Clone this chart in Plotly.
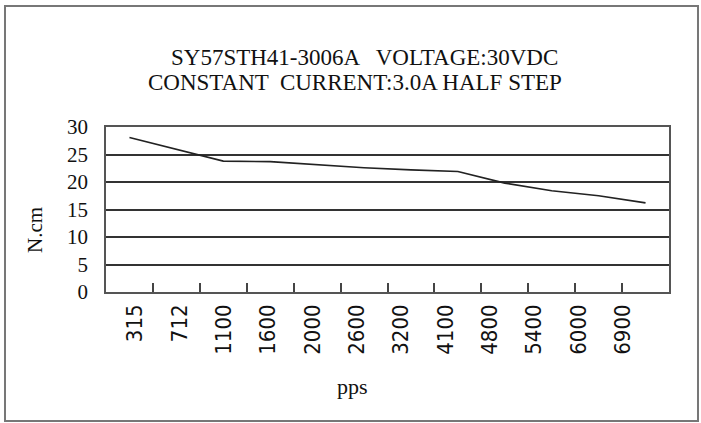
import plotly.graph_objects as go

# ---- data ----
speed_pps = ["315", "712", "1100", "1600", "2000", "2600",
             "3200", "4100", "4800", "5400", "6000", "6900"]
torque_ncm = [28.1, 26.0, 23.8, 23.7, 23.1, 22.6,
              22.2, 21.9, 19.8, 18.4, 17.5, 16.2]
y_ticks = [0, 5, 10, 15, 20, 25, 30]

title_line1 = "SY57STH41-3006A   VOLTAGE:30VDC"
title_line2 = "CONSTANT  CURRENT:3.0A HALF STEP"
x_title = "pps"
y_title = "N.cm"

SERIF = "Liberation Serif, Times New Roman, serif"
NARROW = "Liberation Sans Narrow, Arial Narrow, DejaVu Sans Condensed, sans-serif"

fig = go.Figure()

fig.add_trace(go.Scatter(
    x=speed_pps, y=torque_ncm, mode="lines",
    line=dict(color="#222222", width=1.6),
    showlegend=False, hoverinfo="x+y",
))

# invisible trace on the label axis (labels are spaced slightly tighter)
fig.add_trace(go.Scatter(
    x=speed_pps, y=torque_ncm, mode="none", xaxis="x2",
    showlegend=False, hoverinfo="skip",
))

fig.update_layout(
    width=701, height=423,
    paper_bgcolor="white", plot_bgcolor="white",
    margin=dict(l=106, r=32, t=127, b=131, autoexpand=False),
    xaxis=dict(
        type="category", range=[-0.5, 11.5],
        showticklabels=False, showgrid=False, zeroline=False,
        ticks="inside", tickson="boundaries", ticklen=9,
        tickwidth=1.5, tickcolor="#444444",
        showline=True, mirror=True, linecolor="#555555", linewidth=1.5,
    ),
    xaxis2=dict(
        type="category", overlaying="x", side="bottom", anchor="y",
        range=[-0.654, 12.04],
        showgrid=False, zeroline=False, showline=False, ticks="",
        tickangle=-90, ticklabelstandoff=7,
        tickfont=dict(family=NARROW, size=22, color="#111111"),
    ),
    yaxis=dict(
        range=[0, 30], tickvals=y_ticks, ticks="",
        showgrid=True, gridcolor="#333333", gridwidth=1.5,
        zeroline=False,
        showline=True, mirror=True, linecolor="#555555", linewidth=1.5,
        ticklabelstandoff=12,
        tickfont=dict(family=SERIF, size=21, color="#111111"),
    ),
    annotations=[
        dict(text=title_line1, xref="paper", yref="paper",
             x=0.459, y=1.424, xanchor="center", yanchor="middle",
             showarrow=False, font=dict(family=SERIF, size=23, color="#111111")),
        dict(text=title_line2, xref="paper", yref="paper",
             x=0.443, y=1.270, xanchor="center", yanchor="middle",
             showarrow=False, font=dict(family=SERIF, size=23, color="#111111")),
        dict(text=x_title, xref="paper", yref="paper",
             x=0.437, y=-0.57, xanchor="center", yanchor="middle",
             showarrow=False, font=dict(family=SERIF, size=22, color="#111111")),
        dict(text=y_title, xref="paper", yref="paper", textangle=-90,
             x=-0.126, y=0.376, xanchor="center", yanchor="middle",
             showarrow=False, font=dict(family=SERIF, size=21, color="#111111")),
    ],
    shapes=[
        dict(type="rect", xref="paper", yref="paper",
             x0=-0.1794, x1=1.0515, y0=-0.782, y1=1.733,
             line=dict(color="#777777", width=2), fillcolor="rgba(0,0,0,0)",
             layer="below"),
    ],
)

fig.write_html(
    "out.html",
    config={"displayModeBar": False},
    post_script="document.body.style.margin='0';document.body.style.overflow='hidden';",
)
